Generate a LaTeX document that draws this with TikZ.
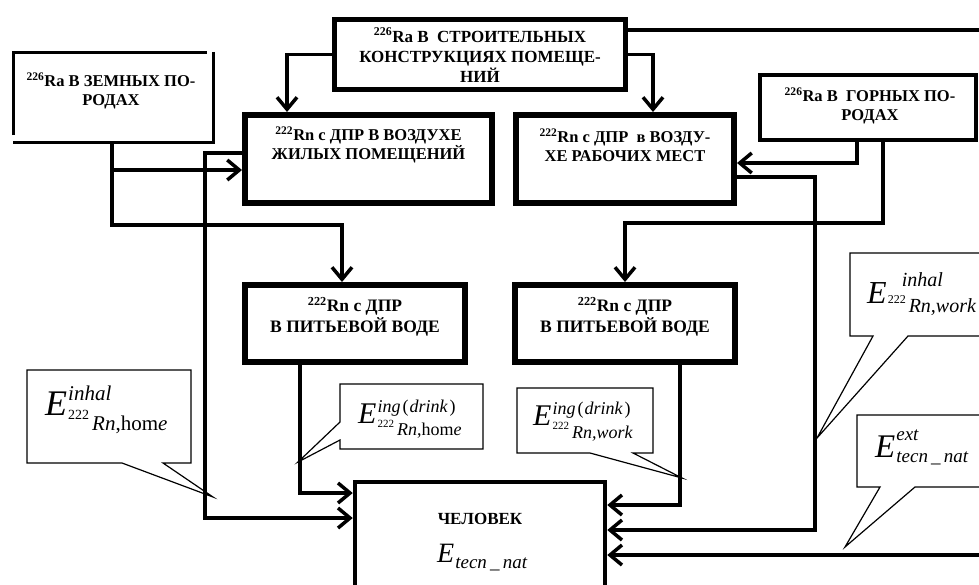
\documentclass[tikz,border=0pt]{standalone}
\usepackage{fontspec}
\setmainfont{Liberation Serif}
\usetikzlibrary{arrows.meta}

% dose symbols: E size, script size, sup raise, sub drop, sup, sub
\newcommand{\nucl}[2]{\raisebox{#2}{\fontsize{#1}{#1}\selectfont\upshape 222}\kern3pt}
\newcommand{\Edose}[6]{{\fontsize{#1}{#1}\selectfont\itshape E}\kern1pt%
  {\fontsize{#2}{#2}\selectfont\itshape\rlap{\raisebox{#3}{#5}}\raisebox{-#4}{#6}}}

\begin{document}
\begin{tikzpicture}[x=1pt, y=-1pt, >={Straight Barb[length=12pt,width=20pt]},
    box/.style={draw, line width=#1, inner sep=0pt}, box/.default=4pt,
    txt/.style={font=\bfseries\fontsize{16.5}{19}\selectfont, align=center, inner sep=0pt},
    conn/.style={line width=3.5pt, ->},
    bubble/.style={line width=1.2pt},
    dose/.style={anchor=base west, inner sep=0pt}]
    \useasboundingbox (0,0) rectangle (979,584);
    \clip (0,0) rectangle (979,584);

    % sources and carriers
    \node[box=5pt, minimum width=291pt, minimum height=70pt] (stroi) at (480,54.5) {};
    \node[minimum width=199pt, minimum height=89pt, inner sep=0pt] (zemn) at (113.5,97.5) {};
    \node[box=4.5pt, minimum width=216pt, minimum height=65pt] (gorny) at (868,107.5) {};
    \node[box=6pt, minimum width=247pt, minimum height=88pt] (rnhome) at (368.5,159) {};
    \node[box=6pt, minimum width=218pt, minimum height=88pt] (rnwork) at (625,159) {};
    \node[box=6pt, minimum width=220pt, minimum height=77pt] (drinkL) at (355,323.5) {};
    \node[box=6pt, minimum width=220pt, minimum height=77pt] (drinkR) at (625,323.5) {};
    \node[box=4.5pt, minimum width=250pt, minimum height=140pt] (chel) at (480,552) {};

    % broken frame of the left box
    \draw[line width=3pt] ([yshift=7pt]zemn.south west) |- ([xshift=-6pt]zemn.north east);
    \draw[line width=3pt] ([yshift=1pt]zemn.north east) |- ([xshift=-1pt]zemn.south west);

    \node[txt, font=\bfseries\fontsize{17}{20}\selectfont] (stroitxt) at (480,55) {\textsuperscript{226}Ra В\ \ СТРОИТЕЛЬНЫХ\\КОНСТРУКЦИЯХ ПОМЕЩЕ-\\НИЙ};
    \node[txt] (zemntxt) at (111,91) {\textsuperscript{226}Ra В ЗЕМНЫХ ПО-\\РОДАХ};
    \node[txt] (gornytxt) at (870,106) {\textsuperscript{226}Ra В\ \ ГОРНЫХ ПО-\\РОДАХ};
    \node[txt] (rnhometxt) at (368.5,145) {\textsuperscript{222}Rn с ДПР В ВОЗДУХЕ\\ЖИЛЫХ ПОМЕЩЕНИЙ};
    \node[txt] (rnworktxt) at (625,145) {\textsuperscript{222}Rn с ДПР\ \ в ВОЗДУ-\\ХЕ РАБОЧИХ МЕСТ};
    \node[txt, font=\bfseries\fontsize{17.5}{21}\selectfont] (drinkLtxt) at (355,317) {\textsuperscript{222}Rn с ДПР\\В ПИТЬЕВОЙ ВОДЕ};
    \node[txt, font=\bfseries\fontsize{17.5}{21}\selectfont] (drinkRtxt) at (625,317) {\textsuperscript{222}Rn с ДПР\\В ПИТЬЕВОЙ ВОДЕ};
    \node[txt, font=\bfseries\fontsize{17}{20}\selectfont] (cheltxt) at (480,519) {ЧЕЛОВЕК};
    \node[dose] (echel) at (437,562) {\Edose{28}{19}{0pt}{6pt}{}{tecn\,\_\,nat}};

    % paths of radon
    \draw[conn] (stroi.west) -| (rnhome.north -| 287,0);
    \draw[conn] (stroi.east) -| (rnwork.north -| 653,0);
    \draw[conn] (stroi.east |- 0,30) -- (995,30) |- (chel.east |- 0,555);
    \draw[conn] (gorny.south -| 857,0) |- (rnwork.east |- 0,163);
    \draw[conn] (gorny.south -| 883,0) |- (drinkR.north |- 0,223) -- (drinkR.north);
    \draw[conn] (rnwork.east |- 0,177) -| (815,530) -- (chel.east |- 0,530);
    \coordinate (zl) at (342,225);
    \draw[conn] (zemn.south -| 112,0) |- (zl) -- (drinkL.north -| zl);
    \draw[conn] (112,170) -- (rnhome.west |- 0,170);
    \draw[conn] (rnhome.west |- 0,153) -| (205,518) -- (chel.west |- 0,518);
    \draw[conn] (drinkL.south -| 300,0) |- (chel.west |- 0,493);
    \draw[conn] (drinkR.south -| 680,0) |- (chel.east |- 0,505);

    % dose callouts
    \draw[bubble] (27,370) -- (191,370) -- (191,463) -- (163,463) -- (213,497) -- (122,463) -- (27,463) -- cycle;
    \draw[bubble] (340,384) -- (483,384) -- (483,449) -- (340,449) -- (340,440) -- (298,462) -- (340,422) -- cycle;
    \draw[bubble] (517,388) -- (653,388) -- (653,453) -- (633,453) -- (682,478) -- (590,453) -- (517,453) -- cycle;
    \draw[bubble] (1000,253) -- (850,253) -- (850,336) -- (873,336) -- (817,438) -- (908,336) -- (1000,336);
    \draw[bubble] (1000,415) -- (857,415) -- (857,487) -- (880,487) -- (845,547) -- (915,487) -- (1000,487);

    \node[dose] (ehomeinh) at (45,415) {\Edose{36}{21}{15pt}{15pt}{inhal}{\nucl{14}{11pt}Rn\textup{,hom}e}};
    \node[dose] (ehomeing) at (358,423) {\Edose{30}{18}{11pt}{12pt}{ing\kern2pt\textup{(}\kern1pt drink\kern2pt\textup{)}}{\nucl{11}{8pt}Rn\textup{,hom}e}};
    \node[dose] (eworking) at (533,425) {\Edose{30}{18}{11pt}{13pt}{ing\kern2pt\textup{(}\kern1pt drink\kern2pt\textup{)}}{\nucl{11}{9pt}Rn,work}};
    \node[dose] (eworkinh) at (867,303) {\Edose{32}{20}{17pt}{9pt}{\kern14pt inhal}{\nucl{12}{9pt}Rn,work}};
    \node[dose] (eext) at (875,457) {\Edose{33}{19}{17pt}{5pt}{ext}{tecn\,\_\,nat}};
\end{tikzpicture}
\end{document}
